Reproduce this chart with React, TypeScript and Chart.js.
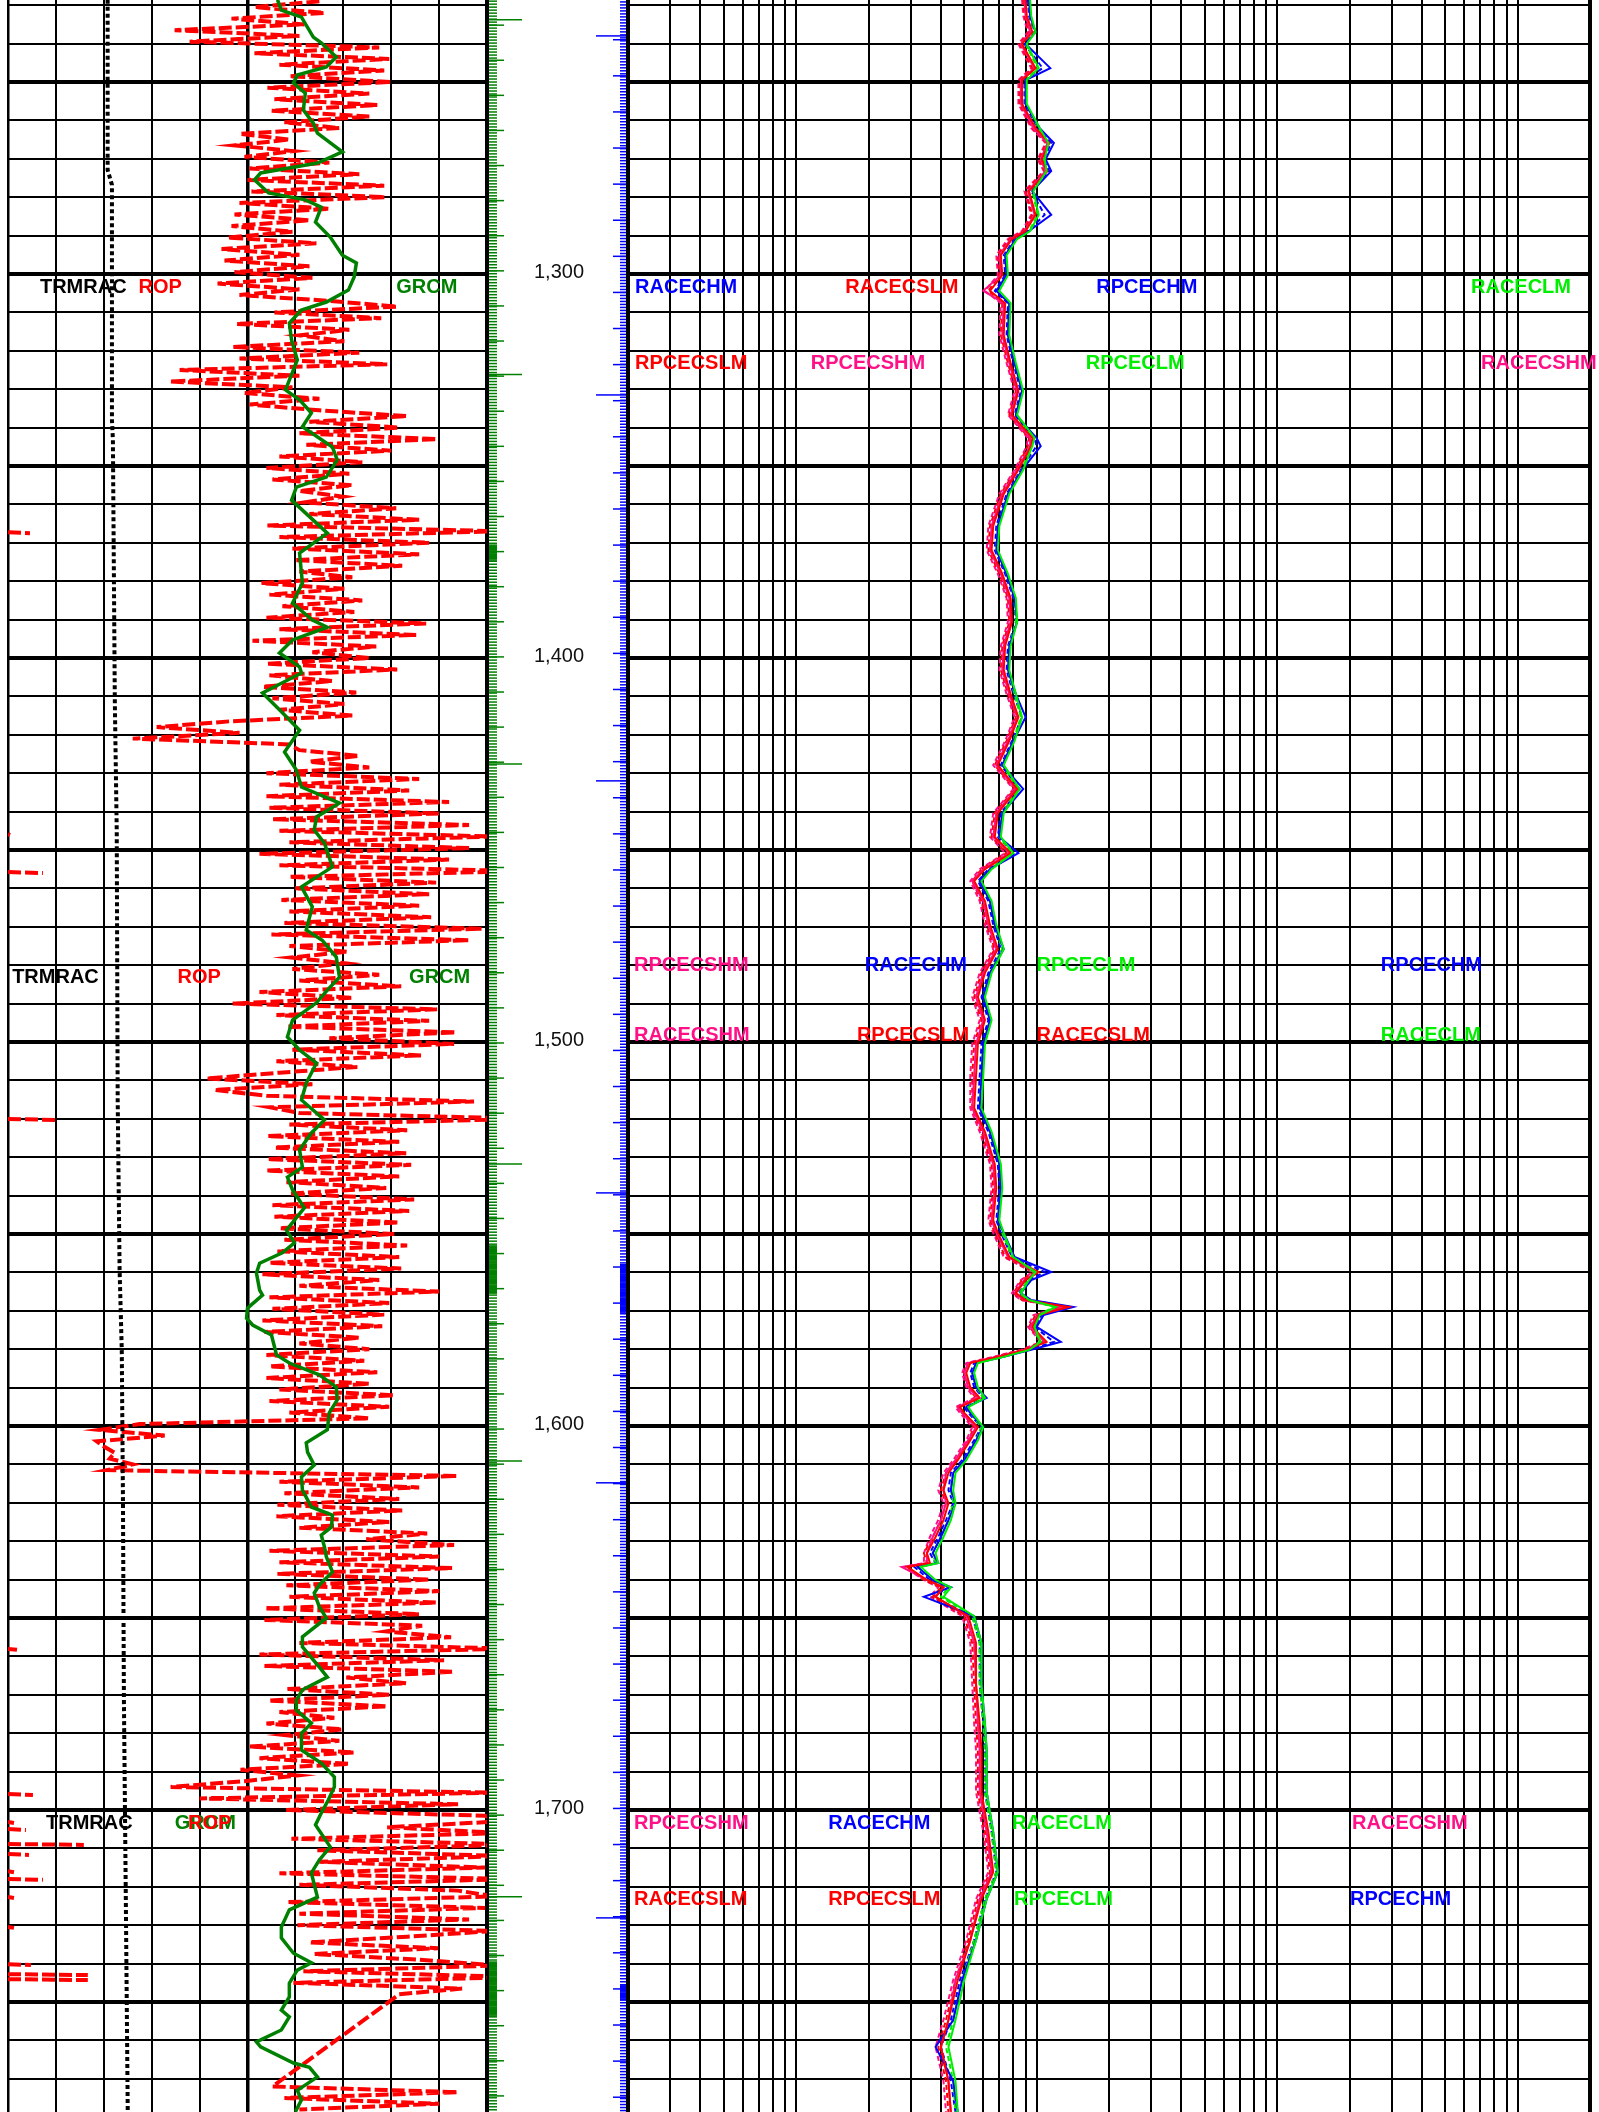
import React, { useEffect, useRef } from "react";
import { Chart, registerables } from "chart.js";

Chart.register(...registerables);

// ---------------- depth window ----------------
const DEPTH_TOP = 1228.65;
const DEPTH_BOTTOM = 1778.65;

// ---------------- GRCM (API) ----------------
const GR_DEPTH = [
  1228.6, 1231.3, 1233.1, 1238.3, 1239.8, 1243.5, 1246.1, 1248.2, 1250.3, 1252.9,
  1257.3, 1260.7, 1263.3, 1268.2, 1271.1, 1273.7, 1275.5, 1278.9, 1280.7, 1282.6,
  1286.5, 1290.4, 1295.1, 1297.1, 1300.8, 1304.2, 1307.3, 1309.4, 1312.8, 1317.2,
  1322.4, 1330.2,
  1332.8, 1336.2, 1339.8, 1345.1, 1348.4, 1352.9, 1355.5, 1358.9, 1361.5, 1367.5,
  1372.7, 1380.5, 1385.7, 1390.1, 1392.0, 1395.3, 1398.7, 1402.3, 1403.9, 1409.1,
  1413.5, 1418.8, 1424.5, 1429.2, 1433.6, 1437.8, 1441.4, 1444.8,
  1448.2, 1454.4, 1459.6, 1464.8, 1470.8, 1473.5, 1477.9, 1483.1, 1486.5, 1489.8,
  1494.3, 1498.7, 1502.1, 1505.5, 1510.7, 1515.1, 1520.3, 1523.7, 1528.1, 1532.6,
  1535.2, 1538.5, 1543.2, 1549.0, 1552.3, 1554.9, 1557.6,
  1560.2, 1564.6, 1565.9, 1569.3, 1571.9, 1573.7, 1576.3, 1581.5, 1583.6, 1586.7,
  1589.9, 1593.2, 1596.6, 1601.0, 1604.4, 1606.8, 1610.2, 1613.3, 1616.7, 1621.1,
  1623.2, 1626.3, 1628.4, 1631.5, 1634.1, 1638.0, 1641.4, 1643.5, 1647.1, 1650.0,
  1654.9, 1657.5, 1662.8, 1665.4, 1668.7, 1671.4, 1674.0,
  1677.4, 1680.0, 1684.4, 1687.8, 1691.4, 1694.0, 1697.4, 1700.8, 1703.9, 1707.0,
  1709.6, 1713.0, 1716.4, 1722.7, 1726.0, 1730.5, 1733.3, 1737.3, 1739.8, 1741.7,
  1745.1, 1748.7, 1752.1, 1753.9, 1757.3, 1760.4, 1761.7, 1765.9, 1767.0, 1769.5,
  1773.0, 1775.5, 1778.6,
];
const GR_API = [
  84.4, 85.6, 91.9, 95.6, 98.1, 102.8, 99.7, 90.6, 89.4, 93.1,
  92.5, 95.6, 96.9, 104.7, 96.9, 79.1, 77.2, 81.6, 93.1, 98.1,
  96.3, 100.9, 104.7, 109.1, 108.4, 106.6, 99.7, 91.9, 88.1, 88.8,
  90.6, 86.9,
  91.3, 95.0, 92.2, 101.6, 103.1, 99.7, 90.3, 88.8, 92.2, 100.0,
  91.3, 92.2, 89.1, 95.3, 100.0, 89.1, 85.0, 91.3, 91.9, 79.7,
  85.0, 91.3, 86.6, 90.3, 91.9, 103.8, 96.6, 95.9,
  99.1, 101.6, 91.9, 95.3, 93.4, 98.4, 102.8, 103.8, 100.0, 96.6,
  89.1, 87.5, 91.3, 96.6, 93.4, 91.9, 99.1, 95.0, 91.3, 92.2,
  87.5, 89.1, 92.8, 87.2, 89.7, 85.9, 78.8,
  77.8, 78.8, 79.7, 75.0, 74.7, 76.6, 82.5, 84.1, 88.1, 97.5,
  102.8, 103.1, 100.6, 100.0, 93.4, 93.8, 95.9, 91.9, 92.2, 95.0,
  101.6, 101.3, 98.1, 99.1, 99.7, 101.6, 97.5, 95.9, 97.5, 99.7,
  92.2, 92.2, 97.5, 100.0, 92.2, 90.3, 90.3,
  95.0, 91.9, 91.9, 98.1, 102.2, 102.2, 100.3, 98.1, 96.3, 98.8,
  100.9, 97.5, 95.0, 96.9, 88.1, 85.6, 85.6, 89.4, 95.0, 90.6,
  88.1, 88.1, 85.6, 88.1, 85.6, 77.8, 79.1, 89.4, 94.4, 96.9,
  90.6, 91.9, 90.0,
];

// ---------------- TRMRAC ----------------
const TR_DEPTH = [1228.6, 1272.9, 1276.8, 1338.0, 1343.2, 1411.0, 1444.8, 1515.1, 1559.4, 1580.2, 1619.3, 1671.4, 1723.5, 1778.7];
const TR_VAL = [20.8, 20.8, 21.7, 21.7, 21.9, 22.3, 22.7, 22.9, 23.3, 23.75, 24.0, 24.2, 24.6, 25.0];

// ---------------- ROP (ft/hr), sampled every ROP_STEP from ROP_TOP ----------------
const ROP_TOP = 1229.0;
const ROP_STEP = 1.5;
const ROP_FTHR = [
  156, 123.5, 158.5, 112, 148.5, 83.5, 146, 91, 186, 123.5,
  191, 136, 188.5, 141, 192, 130, 181, 133.5, 185, 132,
  181, 138.5, 166, 116, 141, 113.5, 143, 118.5, 161, 121,
  176, 120, 188.5, 122, 189, 116, 161, 113.5, 151, 112,
  142.5, 110, 154.5, 107, 146, 108.5, 151, 113.5, 152.5, 105,
  146, 116, 161, 195, 133.5, 187, 114.5, 171, 146, 168.5,
  112.5, 176, 116, 190, 86, 146, 81, 142.5, 118.5, 156,
  121, 156, 200, 151, 196, 146, 215, 149.5, 192, 136,
  177.5, 129.5, 171, 132.5, 172.5, 146, 167.5, 148.5, 194.5, 151,
  206, 130, 246, 136, 211, 142.5, 206, 143.5, 197.5, 146,
  172.5, 127, 168.5, 131, 177.5, 137.5, 173.5, 129.5, 209.5, 136,
  204.5, 122.5, 184.5, 152.5, 181, 129.5, 195, 131, 162.5, 127.5,
  174.5, 132.5, 168.5, 136, 172.5, 111, 74.5, 116, 62.5, 141,
  146, 176, 151, 181, 129.5, 206, 136, 201, 129.5, 221,
  131, 216, 132.5, 231, 136, 243.5, 141, 231, 126, 221,
  136, 256, 141, 214.5, 143.5, 211, 137, 206, 141, 212,
  138.5, 237.5, 132, 231, 141, 170, 142, 168.5, 142.5, 186,
  146, 197, 126, 172.5, 112.5, 215, 134.5, 211, 139.5, 224.5,
  161, 223.5, 142.5, 207, 134.5, 175, 136, 99.5, 152.5, 103.5,
  129.5, 233.5, 131, 146, 261, 141, 200, 130, 196, 133.5,
  199.5, 130, 202, 129.5, 196, 139.5, 189.5, 141, 203.5, 132.5,
  201, 133.5, 196, 136, 193.5, 138.5, 200, 135, 196, 131,
  197, 127.5, 186, 146, 216, 131, 191, 132.5, 188.5, 127.5,
  187.5, 128.5, 176, 146, 181, 129.5, 178.5, 131, 185, 129.5,
  181, 136, 193.5, 131, 191, 141, 181, 66, 46, 78.5,
  44.5, 48.5, 53.5, 51, 62.5, 49.5, 225, 136, 206, 138.5,
  196, 135, 197.5, 134.5, 191, 146, 210, 179.5, 223.5, 131,
  216, 136, 222.5, 135, 211, 139.5, 216, 141, 214.5, 128.5,
  206, 128.5, 207.5, 189.5, 222, 146, 251, 126, 218.5, 128.5,
  223.5, 169.5, 199.5, 140, 191, 130.5, 190, 136, 163.5, 129.5,
  167.5, 139, 166, 121, 173.5, 126, 171, 116.5, 145, 118.5,
  81.5, 243.5, 96, 225.5, 139, 239, 246, 190, 248.5, 142,
  256, 155, 248.5, 156, 239, 136, 251, 146, 225.5, 243.5,
  140, 239, 146, 231, 145, 243.5, 200, 151, 215.5, 153.5,
  206, 246, 148, 256, 143, 227.5, 196, null, null, null,
  null, null, null, null, null, null, null, null, null, null,
  null, null, 132.5, 225.5, 138.5, 216, 146,
];
// ROP on the backup (wrap-around) scale 240-480 ft/hr
const ROP_WRAP_DEPTH = [1367.5, 1446.1, 1456.0, 1520.3, 1658.3, 1696.1, 1703.4, 1705.2, 1709.1, 1711.7, 1716.2, 1718.2, 1722.9, 1730.7, 1740.4, 1743.0, 1744.3];
const ROP_WRAP_VAL = [251, 241, 257.5, 265, 244.5, 252.5, 243, 249, 278, 250.5, 243, 257.5, 243, 243, 251.5, 280, 280];

// ---------------- Resistivity (ohm.m) ----------------
const RES_DEPTH = [
  1228.6, 1232.8, 1237.0, 1240.1, 1246.4, 1249.5, 1255.7, 1262.0, 1265.9, 1270.1,
  1273.2, 1278.4, 1284.6, 1288.8, 1290.9, 1295.1, 1300.3, 1304.4, 1307.6, 1315.9,
  1323.2, 1330.5, 1336.7, 1342.7, 1344.8, 1351.0, 1357.3, 1365.6, 1371.9, 1378.1,
  1384.4, 1390.6, 1396.9, 1403.1, 1409.4, 1415.4, 1421.6, 1427.9, 1434.1, 1440.4,
  1446.6, 1450.8, 1455.0, 1458.1, 1463.3, 1469.5, 1475.8, 1482.0, 1488.3, 1494.3,
  1500.5, 1508.9, 1517.2, 1523.4, 1531.8, 1538.0, 1546.4, 1549.7, 1556.0, 1559.9,
  1562.0, 1565.4, 1567.2, 1569.0, 1571.1, 1574.2, 1578.1, 1580.2, 1582.0, 1583.6,
  1586.2, 1589.9, 1592.7, 1595.1, 1596.6, 1600.3, 1603.7, 1608.9, 1612.2, 1616.7,
  1620.1, 1624.5, 1628.9, 1633.1, 1635.7, 1636.7, 1640.1, 1642.0, 1644.5, 1649.5,
  1656.5, 1667.2, 1677.6, 1684.6, 1695.3, 1705.7, 1716.2, 1723.2, 1733.9, 1744.3,
  1754.7, 1761.7, 1770.6, 1778.7,
];
const RACECHM = [
  9.3, 9.4, 9.9, 9.0, 11.4, 9.0, 9.0, 10.3, 11.8, 10.9,
  11.5, 9.6, 11.5, 9.3, 8.2, 7.4, 7.5, 6.8, 7.7, 7.6,
  8.1, 8.7, 8.2, 10.0, 10.4, 8.7, 7.6, 6.9, 6.8, 7.5,
  8.1, 8.3, 7.7, 7.6, 8.2, 9.0, 8.0, 7.2, 8.8, 7.2,
  7.0, 8.4, 6.4, 5.8, 6.4, 6.7, 7.3, 6.4, 6.0, 6.4,
  6.0, 5.9, 5.8, 6.4, 7.0, 7.1, 6.9, 7.3, 8.1, 11.5,
  9.5, 8.6, 9.5, 14.2, 10.7, 10.0, 12.6, 9.4, 7.3, 5.6,
  5.4, 5.6, 6.2, 5.1, 5.3, 6.0, 5.6, 5.0, 4.5, 4.4,
  4.6, 4.3, 4.0, 3.7, 3.9, 3.2, 3.7, 4.4, 3.4, 5.5,
  5.9, 5.9, 6.1, 6.2, 6.2, 6.6, 6.9, 6.2, 5.6, 4.9,
  4.5, 3.8, 4.5, 4.7,
];
const RPCECHM = [
  9.2, 9.3, 9.8, 8.9, 10.6, 8.9, 8.9, 10.1, 11.5, 10.7,
  11.3, 9.5, 10.8, 9.2, 8.1, 7.3, 7.4, 6.7, 7.6, 7.5,
  8.0, 8.6, 8.1, 9.8, 10.0, 8.6, 7.5, 6.8, 6.7, 7.4,
  8.0, 8.2, 7.6, 7.5, 8.0, 8.7, 7.9, 7.1, 8.5, 7.1,
  6.9, 8.1, 6.3, 5.7, 6.3, 6.6, 7.1, 6.3, 5.9, 6.3,
  5.9, 5.8, 5.7, 6.3, 6.9, 7.0, 6.8, 7.1, 7.9, 10.8,
  9.3, 8.4, 9.3, 13.8, 10.5, 9.8, 11.8, 9.2, 7.1, 5.5,
  5.3, 5.5, 6.0, 5.0, 5.2, 5.9, 5.5, 4.9, 4.4, 4.3,
  4.5, 4.2, 3.9, 3.6, 3.8, 3.1, 3.6, 4.3, 3.7, 5.4,
  5.8, 5.8, 6.0, 6.1, 6.1, 6.5, 6.8, 6.1, 5.5, 4.8,
  4.4, 4.0, 4.4, 4.6,
];
const RACECSLM = [
  9.0, 9.1, 9.6, 8.7, 9.9, 8.7, 8.7, 9.9, 11.3, 10.5,
  11.1, 9.3, 9.9, 9.0, 7.9, 7.1, 7.2, 6.4, 7.4, 7.3,
  7.8, 8.4, 7.9, 9.6, 9.5, 8.4, 7.3, 6.6, 6.5, 7.2,
  7.8, 7.9, 7.4, 7.3, 7.8, 8.4, 7.7, 6.9, 8.3, 6.9,
  6.7, 7.8, 6.1, 5.5, 6.1, 6.4, 6.9, 6.1, 5.7, 6.1,
  5.7, 5.6, 5.5, 6.1, 6.7, 6.8, 6.6, 6.9, 7.7, 10.2,
  9.0, 8.2, 9.0, 13.6, 10.2, 9.6, 11.0, 9.0, 6.9, 5.3,
  5.1, 5.3, 5.8, 4.8, 5.0, 5.7, 5.3, 4.7, 4.3, 4.1,
  4.3, 4.1, 3.8, 3.5, 3.6, 2.9, 3.5, 4.1, 3.8, 5.2,
  5.6, 5.6, 5.8, 5.9, 5.9, 6.3, 6.6, 5.9, 5.3, 4.7,
  4.3, 4.0, 4.3, 4.4,
];
const RPCECSLM = [
  8.8, 8.9, 9.3, 8.5, 9.6, 8.5, 8.5, 9.6, 11.0, 10.2,
  10.8, 9.0, 9.6, 8.8, 7.7, 6.9, 7.0, 6.3, 7.2, 7.1,
  7.6, 8.2, 7.7, 9.3, 9.2, 8.2, 7.1, 6.4, 6.3, 7.0,
  7.6, 7.7, 7.2, 7.1, 7.6, 8.2, 7.5, 6.7, 8.1, 6.7,
  6.5, 7.5, 5.9, 5.4, 5.9, 6.2, 6.7, 5.9, 5.5, 5.9,
  5.5, 5.4, 5.4, 5.9, 6.5, 6.6, 6.4, 6.7, 7.4, 9.8,
  8.7, 8.0, 8.7, 12.8, 9.9, 9.3, 10.6, 8.7, 6.7, 5.2,
  5.0, 5.2, 5.6, 4.7, 4.9, 5.5, 5.2, 4.6, 4.2, 4.0,
  4.2, 4.0, 3.7, 3.4, 3.5, 2.9, 3.4, 4.0, 3.7, 5.0,
  5.4, 5.5, 5.6, 5.7, 5.7, 6.1, 6.4, 5.7, 5.2, 4.6,
  4.2, 3.9, 4.2, 4.3,
];
const RACECLM = [
  9.4, 9.5, 9.9, 9.1, 10.2, 9.1, 9.1, 10.3, 11.2, 10.8,
  11.0, 9.7, 10.2, 9.4, 8.3, 7.5, 7.6, 7.0, 7.8, 7.7,
  8.2, 8.8, 8.3, 9.8, 9.6, 8.8, 7.7, 7.0, 6.9, 7.6,
  8.2, 8.3, 7.8, 7.7, 8.2, 8.7, 8.1, 7.3, 8.5, 7.3,
  7.1, 8.0, 6.5, 5.9, 6.5, 6.8, 7.3, 6.5, 6.1, 6.5,
  6.1, 6.0, 5.9, 6.5, 7.1, 7.2, 7.0, 7.3, 8.0, 9.9,
  9.3, 8.6, 9.3, 12.0, 10.3, 9.8, 10.4, 9.3, 7.3, 5.7,
  5.5, 5.7, 6.1, 5.2, 5.4, 6.0, 5.7, 5.1, 4.6, 4.5,
  4.6, 4.4, 4.1, 3.8, 3.9, 3.3, 3.8, 4.4, 4.1, 5.5,
  5.9, 5.9, 6.1, 6.2, 6.2, 6.6, 6.9, 6.2, 5.6, 5.0,
  4.6, 4.3, 4.6, 4.7,
];
const RPCECLM = [
  9.3, 9.4, 9.8, 9.0, 10.1, 9.0, 9.0, 10.2, 11.1, 10.7,
  10.9, 9.6, 10.1, 9.3, 8.2, 7.4, 7.5, 6.9, 7.7, 7.6,
  8.1, 8.7, 8.2, 9.7, 9.5, 8.7, 7.6, 6.9, 6.8, 7.5,
  8.1, 8.2, 7.7, 7.6, 8.1, 8.6, 8.0, 7.2, 8.4, 7.2,
  7.0, 7.9, 6.4, 5.8, 6.4, 6.7, 7.2, 6.4, 6.0, 6.4,
  6.0, 5.9, 5.8, 6.4, 7.0, 7.1, 6.9, 7.2, 7.9, 9.7,
  9.2, 8.5, 9.2, 11.8, 10.2, 9.7, 10.3, 9.2, 7.2, 5.6,
  5.4, 5.6, 6.0, 5.1, 5.3, 5.9, 5.6, 5.0, 4.5, 4.4,
  4.5, 4.3, 4.0, 3.7, 3.8, 3.2, 3.7, 4.3, 4.0, 5.4,
  5.8, 5.8, 6.0, 6.1, 6.1, 6.5, 6.8, 6.1, 5.5, 4.9,
  4.5, 4.2, 4.5, 4.6,
];
const RACECSHM = [
  8.9, 9.0, 9.4, 8.6, 9.8, 8.6, 8.6, 9.7, 11.1, 10.4,
  10.9, 9.2, 9.8, 8.9, 7.8, 7.0, 7.1, 6.0, 7.3, 7.2,
  7.7, 8.3, 7.8, 9.4, 9.4, 8.3, 7.2, 6.5, 6.4, 7.1,
  7.7, 7.8, 7.3, 7.2, 7.7, 8.3, 7.6, 6.8, 8.2, 6.8,
  6.6, 7.7, 6.0, 5.4, 6.0, 6.3, 6.8, 6.0, 5.6, 6.0,
  5.6, 5.5, 5.4, 6.0, 6.6, 6.7, 6.5, 6.8, 7.6, 10.0,
  8.9, 8.1, 8.9, 13.2, 10.1, 9.4, 10.8, 8.9, 6.8, 5.2,
  5.0, 5.2, 5.7, 4.7, 4.9, 5.6, 5.2, 4.6, 4.2, 4.1,
  4.2, 4.0, 3.7, 3.5, 3.5, 2.75, 3.5, 4.1, 3.8, 5.1,
  5.5, 5.6, 5.7, 5.8, 5.8, 6.2, 6.5, 5.8, 5.3, 4.6,
  4.3, 4.0, 4.3, 4.4,
];
const RPCECSHM = [
  8.7, 8.8, 9.2, 8.4, 9.5, 8.4, 8.4, 9.5, 10.9, 10.1,
  10.7, 8.9, 9.5, 8.7, 7.6, 6.8, 6.9, 6.1, 7.1, 7.0,
  7.5, 8.1, 7.6, 9.2, 9.1, 8.1, 7.0, 6.3, 6.2, 6.9,
  7.5, 7.6, 7.1, 7.0, 7.5, 8.1, 7.4, 6.6, 8.0, 6.6,
  6.4, 7.4, 5.8, 5.3, 5.8, 6.1, 6.6, 5.8, 5.4, 5.8,
  5.4, 5.3, 5.3, 5.8, 6.4, 6.5, 6.3, 6.6, 7.3, 9.6,
  8.6, 7.9, 8.6, 12.6, 9.7, 9.2, 10.4, 8.6, 6.6, 5.1,
  4.9, 5.1, 5.5, 4.6, 4.8, 5.4, 5.1, 4.5, 4.1, 3.9,
  4.1, 3.9, 3.6, 3.4, 3.4, 2.8, 3.4, 3.9, 3.6, 4.9,
  5.3, 5.4, 5.5, 5.6, 5.6, 6.0, 6.3, 5.6, 5.1, 4.5,
  4.1, 3.8, 4.1, 4.2,
];

// ---------------- depth-track annotations ----------------
const DEPTH_LABELS = [1300, 1400, 1500, 1600, 1700];
const GREEN_LONG = [1233.8, 1326.2, 1427.6, 1531.8, 1609.1, 1722.6];
const BLUE_LONG = [1238.0, 1331.5, 1432.0, 1539.3, 1614.8, 1728.1];
const GREEN_DENSE = [[1370.6, 1374.5], [1553.1, 1565.4], [1739.6, 1753.9]];
const BLUE_DENSE = [[1558.0, 1570.6], [1745.6, 1749.5]];
const GREEN_MID_START = 1235.2;
const GREEN_MID_STEP = 9.14;
const BLUE_MID_START = 1239.0;
const BLUE_MID_STEP = 9.4;
const SHORT_TICK_STEP = 0.78;

// ---------------- colours ----------------
const C_BLUE = "#0000FF";
const C_RED = "#FF0000";
const C_LIME = "#00EE00";
const C_PINK = "#FF1087";
const C_GREEN = "#008000";

// ---------------- curve name labels ----------------
const LEFT_LABELS = [
  { text: "TRMRAC", color: "#000000", at: 10.0, depth: 1303.4 },
  { text: "ROP", color: C_RED, at: 40.9, depth: 1303.4 },
  { text: "GRCM", color: C_GREEN, at: 121.6, depth: 1303.4 },
  { text: "TRMRAC", color: "#000000", at: 1.3, depth: 1483.1 },
  { text: "ROP", color: C_RED, at: 53.1, depth: 1483.1 },
  { text: "GRCM", color: C_GREEN, at: 125.6, depth: 1483.1 },
  { text: "TRMRAC", color: "#000000", at: 11.9, depth: 1703.4 },
  { text: "GRCM", color: C_GREEN, at: 52.2, depth: 1703.4 },
  { text: "ROP", color: C_RED, at: 56.4, depth: 1703.4 },
];
const RIGHT_LABELS = [
  { text: "RACECHM", color: C_BLUE, at: 0.214, depth: 1303.4 },
  { text: "RACECSLM", color: C_RED, at: 1.6, depth: 1303.4 },
  { text: "RPCECHM", color: C_BLUE, at: 17.7, depth: 1303.4 },
  { text: "RACECLM", color: C_LIME, at: 640, depth: 1303.4 },
  { text: "RPCECSLM", color: C_RED, at: 0.214, depth: 1323.4 },
  { text: "RPCECSHM", color: C_PINK, at: 1.15, depth: 1323.4 },
  { text: "RPCECLM", color: C_LIME, at: 16.0, depth: 1323.4 },
  { text: "RACECSHM", color: C_PINK, at: 705, depth: 1323.4 },
  { text: "RPCECSHM", color: C_PINK, at: 0.212, depth: 1480.2 },
  { text: "RACECHM", color: C_BLUE, at: 1.93, depth: 1480.2 },
  { text: "RPCECLM", color: C_LIME, at: 10.0, depth: 1480.2 },
  { text: "RPCECHM", color: C_BLUE, at: 270, depth: 1480.2 },
  { text: "RACECSHM", color: C_PINK, at: 0.212, depth: 1498.4 },
  { text: "RPCECSLM", color: C_RED, at: 1.79, depth: 1498.4 },
  { text: "RACECSLM", color: C_RED, at: 10.0, depth: 1498.4 },
  { text: "RACECLM", color: C_LIME, at: 270, depth: 1498.4 },
  { text: "RPCECSHM", color: C_PINK, at: 0.212, depth: 1703.4 },
  { text: "RACECHM", color: C_BLUE, at: 1.36, depth: 1703.4 },
  { text: "RACECLM", color: C_LIME, at: 7.9, depth: 1703.4 },
  { text: "RACECSHM", color: C_PINK, at: 205, depth: 1703.4 },
  { text: "RACECSLM", color: C_RED, at: 0.212, depth: 1723.2 },
  { text: "RPCECSLM", color: C_RED, at: 1.36, depth: 1723.2 },
  { text: "RPCECLM", color: C_LIME, at: 8.06, depth: 1723.2 },
  { text: "RPCECHM", color: C_BLUE, at: 201, depth: 1723.2 },
];

const RES_CURVES = [
  { name: "RACECLM", values: RACECLM, color: C_LIME, dash: [] },
  { name: "RACECSLM", values: RACECSLM, color: C_RED, dash: [] },
  { name: "RACECHM", values: RACECHM, color: C_BLUE, dash: [] },
  { name: "RACECSHM", values: RACECSHM, color: C_PINK, dash: [] },
  { name: "RPCECLM", values: RPCECLM, color: C_LIME, dash: [5, 3] },
  { name: "RPCECSLM", values: RPCECSLM, color: C_RED, dash: [5, 3] },
  { name: "RPCECHM", values: RPCECHM, color: C_BLUE, dash: [5, 3] },
  { name: "RPCECSHM", values: RPCECSHM, color: C_PINK, dash: [5, 3] },
];

// ---------------- grid values ----------------
const DEPTH_GRID: number[] = [];
for (let d = 1230; d <= 1770; d += 10) DEPTH_GRID.push(d);
const GR_GRID: number[] = [];
for (let g = 0; g <= 150; g += 15) GR_GRID.push(g);
const LOG_GRID: number[] = [];
for (let e = -1; e <= 3; e++) {
  for (let m = 1; m <= 9; m++) {
    const v = parseFloat((m * Math.pow(10, e)).toPrecision(6));
    if (v >= 0.2 - 1e-9 && v <= 2000 + 1e-9) LOG_GRID.push(v);
  }
}

const FONT_BOLD = 'bold 20px "Liberation Sans", Arial, Helvetica, sans-serif';
const FONT_DEPTH = '20px "Liberation Sans", Arial, Helvetica, sans-serif';

function depthAxis() {
  return {
    type: "linear",
    min: DEPTH_TOP,
    max: DEPTH_BOTTOM,
    reverse: true,
    position: "left",
    ticks: { display: false },
    grid: {
      drawTicks: false,
      color: "#000000",
      lineWidth: (c: any) => (c.tick && Math.round(c.tick.value) % 50 === 0 ? 4 : 2),
    },
    border: { display: false },
    afterBuildTicks: (s: any) => {
      s.ticks = DEPTH_GRID.map((v) => ({ value: v }));
    },
  };
}

function labelPlugin(id: string, labels: any[]) {
  return {
    id,
    afterDatasetsDraw(chart: any) {
      const { ctx, scales } = chart;
      ctx.save();
      ctx.font = FONT_BOLD;
      ctx.textAlign = "left";
      ctx.textBaseline = "middle";
      labels.forEach((l) => {
        ctx.fillStyle = l.color;
        ctx.fillText(l.text, scales.x.getPixelForValue(l.at), scales.y.getPixelForValue(l.depth));
      });
      ctx.restore();
    },
  };
}

const depthTrackPlugin = {
  id: "depthTrack",
  afterDraw(chart: any) {
    const { ctx, chartArea: a, scales } = chart;
    const y = scales.y;
    const line = (d: number, x0: number, x1: number) => {
      const py = y.getPixelForValue(d);
      ctx.beginPath();
      ctx.moveTo(x0, py);
      ctx.lineTo(x1, py);
      ctx.stroke();
    };
    ctx.save();
    ctx.lineWidth = 1.5;
    // green (left) ticks
    ctx.strokeStyle = C_GREEN;
    for (let d = DEPTH_TOP + 0.3; d < DEPTH_BOTTOM; d += SHORT_TICK_STEP) line(d, a.left, a.left + 8);
    GREEN_DENSE.forEach(([s, e]) => {
      for (let d = s; d <= e; d += 0.3) line(d, a.left, a.left + 8);
    });
    for (let d = GREEN_MID_START; d < DEPTH_BOTTOM; d += GREEN_MID_STEP) line(d, a.left, a.left + 15);
    GREEN_LONG.forEach((d) => line(d, a.left, a.left + 33));
    // blue (right) ticks
    ctx.strokeStyle = C_BLUE;
    for (let d = DEPTH_TOP + 0.5; d < DEPTH_BOTTOM; d += SHORT_TICK_STEP) line(d, a.right - 6, a.right);
    BLUE_DENSE.forEach(([s, e]) => {
      for (let d = s; d <= e; d += 0.3) line(d, a.right - 6, a.right);
    });
    for (let d = BLUE_MID_START; d < DEPTH_BOTTOM; d += BLUE_MID_STEP) line(d, a.right - 13, a.right);
    BLUE_LONG.forEach((d) => line(d, a.right - 30, a.right));
    // depth numbers
    ctx.fillStyle = "#111111";
    ctx.font = FONT_DEPTH;
    ctx.textAlign = "center";
    ctx.textBaseline = "middle";
    DEPTH_LABELS.forEach((d) => {
      ctx.fillText(d.toLocaleString("en-US"), (a.left + a.right) / 2 + 1.5, y.getPixelForValue(d) - 1);
    });
    ctx.restore();
  },
};

export default function App() {
  const leftRef = useRef<HTMLCanvasElement>(null);
  const midRef = useRef<HTMLCanvasElement>(null);
  const rightRef = useRef<HTMLCanvasElement>(null);

  useEffect(() => {
    document.body.style.margin = "0";
    document.body.style.overflow = "hidden";
    const charts: Chart[] = [];
    const common = {
      responsive: false,
      animation: false,
      indexAxis: "y",
      events: [],
      plugins: { legend: { display: false }, tooltip: { enabled: false } },
    };

    // ---- left track: GRCM / ROP / TRMRAC ----
    const wrapData: any[] = [];
    ROP_WRAP_DEPTH.forEach((d, i) => {
      wrapData.push({ x: 240, y: d - 0.25 });
      wrapData.push({ x: ROP_WRAP_VAL[i], y: d });
      wrapData.push({ x: null, y: d + 0.05 });
    });
    charts.push(
      new Chart(leftRef.current as HTMLCanvasElement, {
        type: "line",
        data: {
          datasets: [
            {
              label: "GRCM",
              data: GR_DEPTH.map((d, i) => ({ x: GR_API[i], y: d })),
              xAxisID: "x",
              yAxisID: "y",
              borderColor: C_GREEN,
              borderWidth: 3.5,
              pointRadius: 0,
              tension: 0,
            },
            {
              label: "TRMRAC",
              data: TR_DEPTH.map((d, i) => ({ x: TR_VAL[i], y: d })),
              xAxisID: "xTr",
              yAxisID: "y",
              borderColor: "#000000",
              borderWidth: 4,
              borderDash: [4, 3],
              pointRadius: 0,
            },
            {
              label: "ROP",
              data: ROP_FTHR.map((v, i) => ({ x: v, y: ROP_TOP + i * ROP_STEP })),
              xAxisID: "xRop",
              yAxisID: "y",
              borderColor: C_RED,
              borderWidth: 4,
              borderDash: [13, 4],
              pointRadius: 0,
              spanGaps: true,
            },
            {
              label: "ROP backup",
              data: wrapData,
              xAxisID: "xRopWrap",
              yAxisID: "y",
              borderColor: C_RED,
              borderWidth: 4,
              borderDash: [13, 4],
              pointRadius: 0,
              spanGaps: false,
            },
          ],
        },
        options: {
          ...common,
          layout: { padding: { left: 8, right: 13, top: 0, bottom: 0 } },
          scales: {
            x: {
              type: "linear",
              min: 0,
              max: 150,
              position: "top",
              ticks: { display: false },
              grid: {
                drawTicks: false,
                color: "#000000",
                lineWidth: (c: any) => (c.index === 10 ? 4 : c.index === 5 ? 3.5 : c.index === 0 ? 2.5 : 2),
              },
              border: { display: false },
              afterBuildTicks: (s: any) => {
                s.ticks = GR_GRID.map((v) => ({ value: v }));
              },
            },
            xRop: { type: "linear", min: 0, max: 240, display: false },
            xRopWrap: { type: "linear", min: 240, max: 480, display: false },
            xTr: { type: "linear", min: 0, max: 100, display: false },
            y: depthAxis(),
          },
        } as any,
        plugins: [labelPlugin("leftLabels", LEFT_LABELS)],
      } as any)
    );

    // ---- right track: resistivity (log) ----
    charts.push(
      new Chart(rightRef.current as HTMLCanvasElement, {
        type: "line",
        data: {
          datasets: RES_CURVES.map((c) => ({
            label: c.name,
            data: RES_DEPTH.map((d, i) => ({ x: c.values[i], y: d })).filter((p) => p.x !== undefined),
            xAxisID: "x",
            yAxisID: "y",
            borderColor: c.color,
            borderWidth: 2,
            borderDash: c.dash,
            pointRadius: 0,
            tension: 0,
          })),
        },
        options: {
          ...common,
          layout: { padding: { left: 18, right: 9, top: 0, bottom: 0 } },
          scales: {
            x: {
              type: "logarithmic",
              min: 0.2,
              max: 2000,
              position: "top",
              ticks: { display: false },
              grid: {
                drawTicks: false,
                color: "#000000",
                lineWidth: (c: any) => (c.index === 0 || c.index === LOG_GRID.length - 1 ? 4 : 2),
              },
              border: { display: false },
              afterBuildTicks: (s: any) => {
                s.ticks = LOG_GRID.map((v) => ({ value: v }));
              },
            },
            y: depthAxis(),
          },
        } as any,
        plugins: [labelPlugin("rightLabels", RIGHT_LABELS)],
      } as any)
    );

    // ---- depth track ----
    charts.push(
      new Chart(midRef.current as HTMLCanvasElement, {
        type: "line",
        data: { datasets: [] },
        options: {
          ...common,
          layout: { padding: { left: 9, right: 14, top: 0, bottom: 0 } },
          scales: {
            x: { type: "linear", min: 0, max: 1, display: false },
            y: { type: "linear", min: DEPTH_TOP, max: DEPTH_BOTTOM, reverse: true, display: false },
          },
        } as any,
        plugins: [depthTrackPlugin],
      } as any)
    );

    return () => charts.forEach((c) => c.destroy());
  }, []);

  return (
    <div style={{ position: "relative", width: 1599, height: 2112, overflow: "hidden", background: "#ffffff" }}>
      <canvas ref={leftRef} width={500} height={2112} style={{ position: "absolute", left: 0, top: 0 }} />
      <canvas ref={rightRef} width={989} height={2112} style={{ position: "absolute", left: 610, top: 0 }} />
      <canvas ref={midRef} width={160} height={2112} style={{ position: "absolute", left: 480, top: 0 }} />
    </div>
  );
}
